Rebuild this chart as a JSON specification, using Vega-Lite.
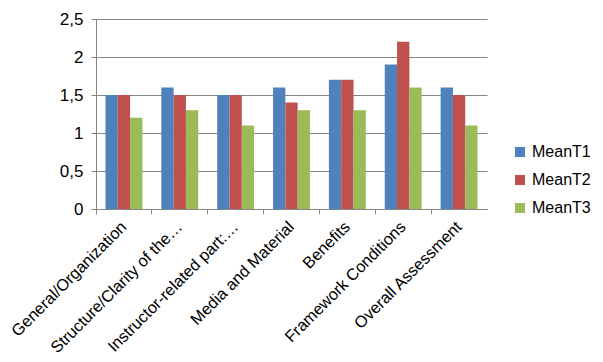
{
  "$schema": "https://vega.github.io/schema/vega-lite/v6.json",
  "autosize": "none",
  "width": 391,
  "height": 190,
  "padding": {"left": 96, "top": 19, "right": 116, "bottom": 153},
  "background": "white",
  "config": {
    "font": "Liberation Sans",
    "view": {"stroke": null},
    "axis": {"labelFont": "Liberation Sans", "labelColor": "#000000", "labelFontSize": 17}
  },
  "data": {
    "values": [
      {"category": "General/Organization", "series": "MeanT1", "value": 1.5},
      {"category": "General/Organization", "series": "MeanT2", "value": 1.5},
      {"category": "General/Organization", "series": "MeanT3", "value": 1.2},
      {"category": "Structure/Clarity of the…", "series": "MeanT1", "value": 1.6},
      {"category": "Structure/Clarity of the…", "series": "MeanT2", "value": 1.5},
      {"category": "Structure/Clarity of the…", "series": "MeanT3", "value": 1.3},
      {"category": "Instructor-related part:…", "series": "MeanT1", "value": 1.5},
      {"category": "Instructor-related part:…", "series": "MeanT2", "value": 1.5},
      {"category": "Instructor-related part:…", "series": "MeanT3", "value": 1.1},
      {"category": "Media and Material", "series": "MeanT1", "value": 1.6},
      {"category": "Media and Material", "series": "MeanT2", "value": 1.4},
      {"category": "Media and Material", "series": "MeanT3", "value": 1.3},
      {"category": "Benefits", "series": "MeanT1", "value": 1.7},
      {"category": "Benefits", "series": "MeanT2", "value": 1.7},
      {"category": "Benefits", "series": "MeanT3", "value": 1.3},
      {"category": "Framework Conditions", "series": "MeanT1", "value": 1.9},
      {"category": "Framework Conditions", "series": "MeanT2", "value": 2.2},
      {"category": "Framework Conditions", "series": "MeanT3", "value": 1.6},
      {"category": "Overall Assessment", "series": "MeanT1", "value": 1.6},
      {"category": "Overall Assessment", "series": "MeanT2", "value": 1.5},
      {"category": "Overall Assessment", "series": "MeanT3", "value": 1.1}
    ]
  },
  "mark": {"type": "bar"},
  "encoding": {
    "x": {
      "field": "category",
      "type": "nominal",
      "sort": null,
      "scale": {"paddingInner": 0, "paddingOuter": 0},
      "axis": {
        "title": null,
        "labelAngle": -45,
        "labelAlign": "right",
        "labelBaseline": "middle",
        "labelPadding": 10,
        "labelFontSize": 16.3,
        "bandPosition": 0,
        "tickColor": "#868686",
        "tickSize": 5,
        "domainColor": "#868686",
        "labelLimit": 300
      }
    },
    "xOffset": {
      "field": "series",
      "type": "nominal",
      "scale": {"paddingInner": 0, "paddingOuter": 0.77}
    },
    "y": {
      "field": "value",
      "type": "quantitative",
      "scale": {"domain": [0, 2.5]},
      "axis": {
        "title": null,
        "values": [0, 0.5, 1, 1.5, 2, 2.5],
        "format": "~g",
        "labelExpr": "replace(datum.label, '.', ',')",
        "gridColor": "#868686",
        "gridOpacity": 1,
        "domainColor": "#868686",
        "tickColor": "#868686",
        "tickSize": 5,
        "labelPadding": 8
      }
    },
    "color": {
      "field": "series",
      "type": "nominal",
      "scale": {"domain": ["MeanT1", "MeanT2", "MeanT3"], "range": ["#4F81BD", "#C0504D", "#9BBB59"]},
      "legend": {
        "title": null,
        "orient": "none",
        "legendX": 416,
        "legendY": 125,
        "symbolType": "square",
        "symbolSize": 100,
        "symbolStrokeWidth": 0,
        "labelFontSize": 16,
        "labelFont": "Liberation Sans",
        "labelColor": "#000000",
        "labelOffset": 4,
        "rowPadding": 12
      }
    }
  }
}
